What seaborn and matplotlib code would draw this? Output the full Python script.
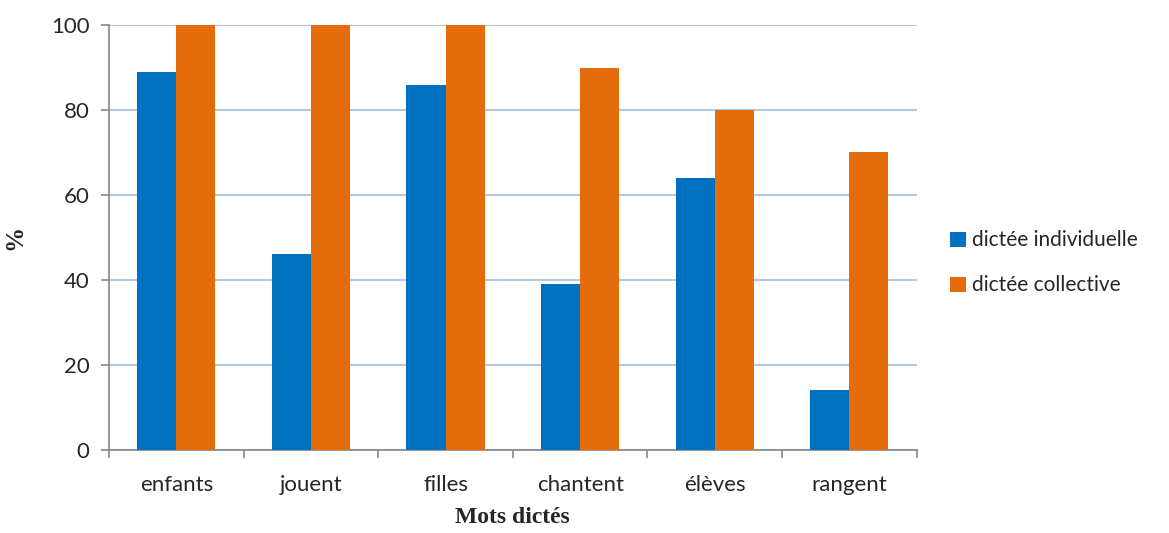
import pandas as pd
import matplotlib.pyplot as plt
import seaborn as sns
from matplotlib.ticker import FixedLocator

# Data
mots = ['enfants', 'jouent', 'filles', 'chantent', 'élèves', 'rangent']
individuelle = [89, 46, 86, 39, 64, 14]
collective = [100, 100, 100, 90, 80, 70]
series = ['dictée individuelle', 'dictée collective']

df = pd.DataFrame({
    'mot': mots * 2,
    'valeur': individuelle + collective,
    'type': [series[0]] * len(mots) + [series[1]] * len(mots),
})

sns.set_style('white')
plt.rcParams['font.family'] = ['Lato', 'DejaVu Sans']

fig = plt.figure(figsize=(11.69, 5.33), dpi=100)
ax = fig.add_axes([0.0932, 0.156, 0.691, 0.797])

palette = {series[0]: '#0070C0', series[1]: '#E46C0A'}
sns.barplot(data=df, x='mot', y='valeur', hue='type', hue_order=series,
            palette=palette, width=0.58, saturation=1, linewidth=0,
            ax=ax, zorder=3)

ax.set_ylim(0, 100)
ax.set_xlim(-0.5, len(mots) - 0.5)
ax.set_yticks(range(0, 101, 20))
ax.yaxis.grid(True, color='#B4C7E7', linewidth=1.5, zorder=0)
ax.set_axisbelow(True)

for side in ['top', 'right']:
    ax.spines[side].set_visible(False)
for side in ['left', 'bottom']:
    ax.spines[side].set_color('#868686')
    ax.spines[side].set_linewidth(1.2)

ax.tick_params(axis='y', length=6, width=1.2, color='#868686', labelsize=16, pad=8, left=True)
ax.tick_params(axis='x', which='major', length=0, labelsize=16, pad=18)
ax.xaxis.set_minor_locator(FixedLocator([i - 0.5 for i in range(len(mots) + 1)]))
ax.tick_params(axis='x', which='minor', length=6, width=1.2, color='#868686', bottom=True)

ax.set_xlabel('Mots dictés', fontsize=17, fontweight='bold',
              family='Liberation Serif', labelpad=9)
ax.set_ylabel('%', fontsize=18, fontweight='bold', family='Liberation Serif', labelpad=18)

ax.legend(loc='center left', bbox_to_anchor=(1.018, 0.44), frameon=False,
          fontsize=15, handlelength=0.75, handleheight=0.75, handletextpad=0.3,
          labelspacing=1.2)

fig.savefig('out.png', dpi=100)
